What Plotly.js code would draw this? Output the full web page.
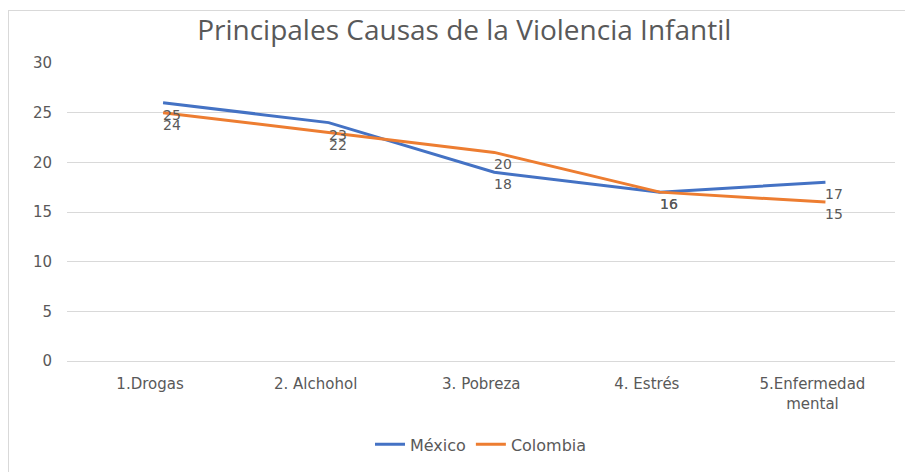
<!DOCTYPE html>
<html><head><meta charset="utf-8">
<script src="https://cdn.plot.ly/plotly-3.0.1.min.js"></script>
<style>
html,body{margin:0;padding:0;background:#fff;}
#frame{position:absolute;left:8px;top:10px;width:1000px;height:600px;border-left:1px solid #d9d9d9;border-top:1px solid #d9d9d9;}
#chart{position:absolute;left:0;top:0;width:905px;height:472px;}
</style></head>
<body>
<div id="frame"></div>
<div id="chart"></div>
<script>
const categories = ["1.Drogas", "2. Alchohol", "3. Pobreza", "4. Estrés", "5.Enfermedad<br>mental"];
const mexico = [26, 24, 19, 17, 18];
const colombia = [25, 23, 21, 17, 16];
const mexicoLabels = ["25", "23", "18", "16", "17"];
const colombiaLabels = ["24", "22", "20", "16", "15"];
const yTicks = [0, 5, 10, 15, 20, 25, 30];

const idx = categories.map((c, i) => i);
const font = "DejaVu Sans, sans-serif";
const titleFont = "Open Sans, sans-serif";
const grey = "#595959";

const traces = [
  {x: idx, y: mexico, name: "México", type: "scatter", mode: "lines",
   line: {color: "#4472C4", width: 3}},
  {x: idx, y: colombia, name: "Colombia", type: "scatter", mode: "lines",
   line: {color: "#ED7D31", width: 3}}
];

const annotations = [];
[[mexico, mexicoLabels], [colombia, colombiaLabels]].forEach(([vals, labels]) => {
  vals.forEach((v, i) => annotations.push({
    x: idx[i], y: v, xref: "x", yref: "y", text: labels[i], showarrow: false,
    xanchor: "left", yanchor: "middle", xshift: -2, yshift: -12,
    font: {family: font, size: 14, color: grey}
  }));
});

const layout = {
  width: 905, height: 472,
  margin: {l: 67, r: 10, t: 63, b: 108},
  paper_bgcolor: "rgba(0,0,0,0)", plot_bgcolor: "rgba(0,0,0,0)",
  font: {family: font, color: grey, size: 14},
  title: {text: "Principales Causas de la Violencia Infantil", x: 0.513, xanchor: "center",
          y: 0.936, yanchor: "middle", font: {family: titleFont, size: 28, color: grey}},
  xaxis: {range: [-0.58, 4.42], tickmode: "array", tickvals: idx, ticktext: categories,
          ticklabelshift: -13, ticklabelstandoff: 12,
          showgrid: false, zeroline: false, showline: false, ticks: "",
          tickfont: {family: font, size: 15, color: grey}},
  yaxis: {range: [0, 30], tickvals: yTicks, showgrid: true, gridcolor: "#d9d9d9", gridwidth: 1,
          zeroline: true, zerolinecolor: "#d9d9d9", zerolinewidth: 1,
          showline: false, ticks: "", ticklabelstandoff: 14,
          tickfont: {family: font, size: 15, color: grey}},
  annotations: annotations,
  showlegend: true,
  legend: {orientation: "h", x: 0.5, xanchor: "center", y: -0.28, yanchor: "middle",
           font: {family: font, size: 16, color: grey}, itemwidth: 30}
};

Plotly.newPlot("chart", traces, layout, {displayModeBar: false, staticPlot: true});
</script>
</body></html>
